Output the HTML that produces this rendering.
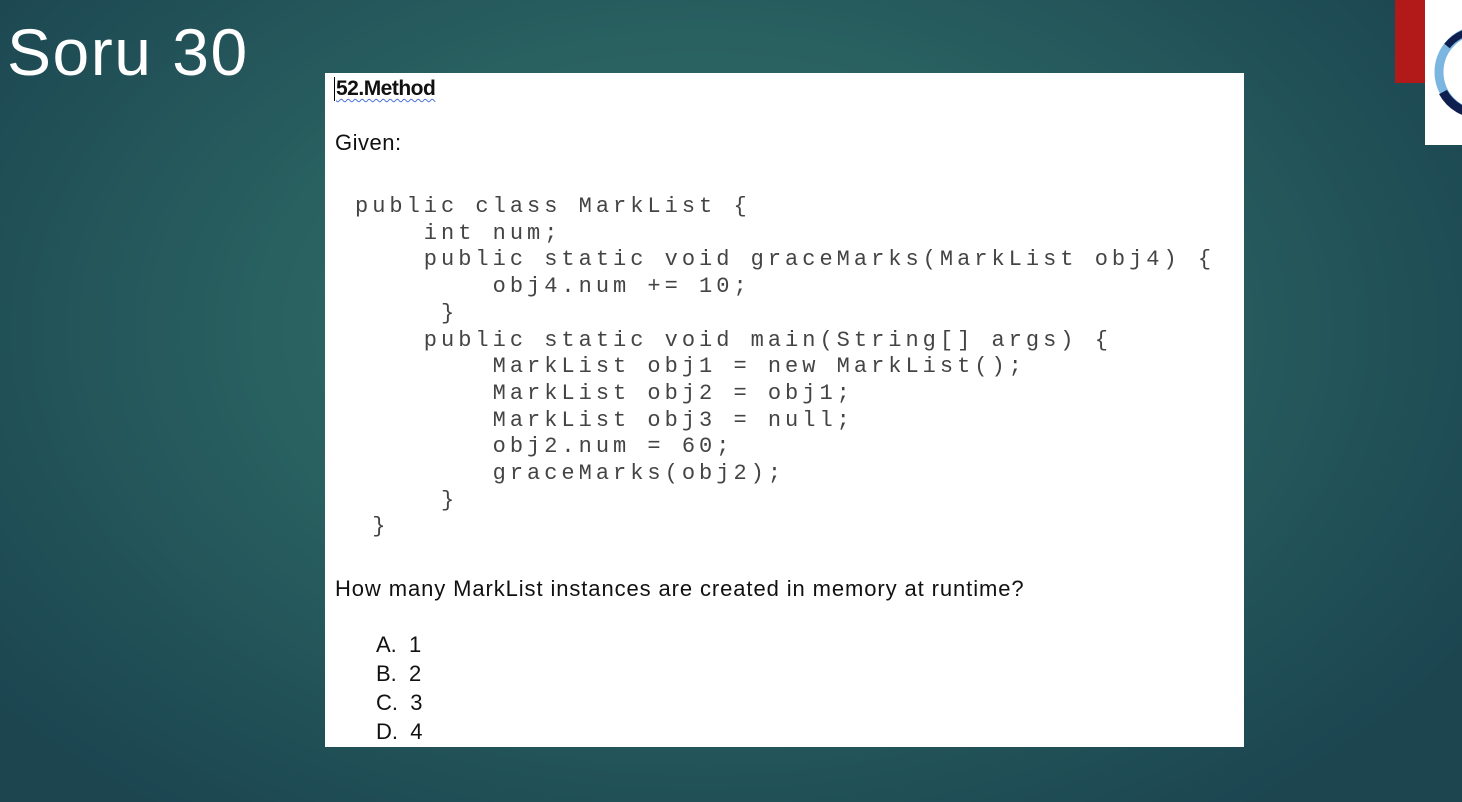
<!DOCTYPE html>
<html><head><meta charset="utf-8"><style>
html,body{margin:0;padding:0}
body{width:1462px;height:802px;overflow:hidden;position:relative;
background:radial-gradient(ellipse 900px 600px at 700px 330px,#31706a 0%,#2a6261 45%,#1f4d55 85%,#1c4550 100%);
font-family:"Liberation Sans",sans-serif}
.t{position:absolute;left:7px;top:14px;font-size:66px;color:#fff;font-weight:300;letter-spacing:1.5px}
.box{position:absolute;left:325px;top:73px;width:919px;height:674px;background:#fff}
.p{position:absolute;font-size:21px;color:#111}
.code{position:absolute;left:355px;top:194px;font-family:"Liberation Mono",monospace;font-size:22px;letter-spacing:4px;line-height:26.7px;color:#444;white-space:pre;margin:0}
.red{position:absolute;left:1395px;top:0;width:30px;height:83px;background:#b11a18}
.logo{position:absolute;left:1425px;top:0;width:37px;height:145px;background:#fff;overflow:hidden}
</style></head><body>
<div class="t">Soru 30</div>
<div class="red"></div>
<div class="logo"><svg width="37" height="145"><circle cx="56" cy="72" r="42" fill="none" stroke="#7ab6e0" stroke-width="9"/><path d="M18 92 A42 42 0 0 0 56 114" fill="none" stroke="#0e1f4f" stroke-width="9"/><path d="M22 46 A42 42 0 0 1 40 33" fill="none" stroke="#0e1f4f" stroke-width="7"/></svg></div>
<div class="box"></div>
<div class="p" style="left:334px;top:77px;font-weight:bold;font-size:21px;border-left:1px solid #000;padding-left:1px;text-decoration:underline wavy #4a6fd8 1px;text-underline-offset:3px;letter-spacing:-0.5px">52.Method</div>
<div class="p" style="left:335px;top:130px;font-size:22px;letter-spacing:0.5px">Given:</div>
<pre class="code">public class MarkList {
    int num;
    public static void graceMarks(MarkList obj4) {
        obj4.num += 10;
     }
    public static void main(String[] args) {
        MarkList obj1 = new MarkList();
        MarkList obj2 = obj1;
        MarkList obj3 = null;
        obj2.num = 60;
        graceMarks(obj2);
     }
 }</pre>
<div class="p" style="left:335px;top:576px;font-size:22px;letter-spacing:0.9px">How many MarkList instances are created in memory at runtime?</div>
<div class="p" style="left:376px;top:630px;font-size:22px;line-height:29px">A.&nbsp;&nbsp;1<br>B.&nbsp;&nbsp;2<br>C.&nbsp;&nbsp;3<br>D.&nbsp;&nbsp;4</div>
</body></html>
